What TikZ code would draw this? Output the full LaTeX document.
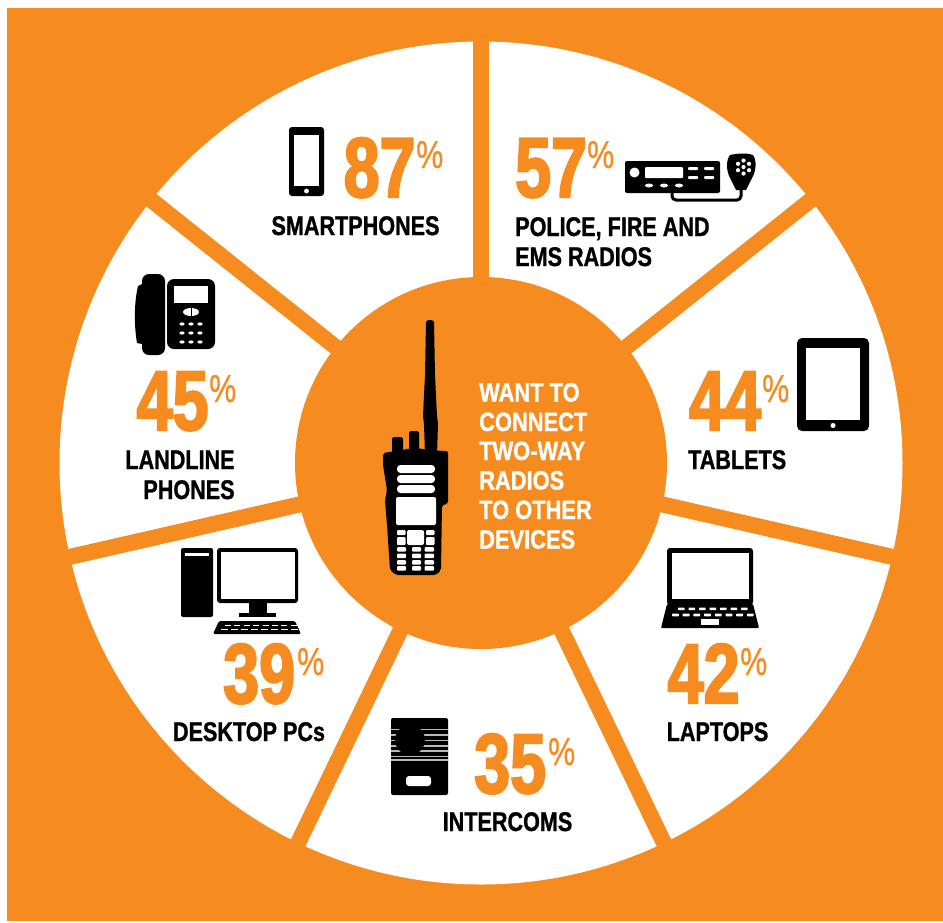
\documentclass[tikz,border=0pt]{standalone}
\usepackage{fontspec}
\setmainfont{Liberation Sans}
\newfontfamily\figfont[FakeStretch=0.76,FakeBold=2.4]{Liberation Sans Bold}
\newfontfamily\labfont[FakeStretch=0.80,FakeBold=1]{Liberation Sans Bold}
\newfontfamily\lwfont[FakeStretch=0.825,FakeBold=1]{Liberation Sans Bold}
\newfontfamily\pctfont[FakeStretch=0.78,FakeBold=0.5]{Liberation Sans}
\definecolor{brand}{HTML}{F68B1F}
\tikzset{
  spoke/.style={brand,line width=16pt},
  bigfig/.style={text=brand,inner sep=0pt,anchor=base west,font=\figfont\fontsize{85}{85}\selectfont},
  pct/.style={text=brand,inner sep=0pt,anchor=base west,font=\pctfont\fontsize{39}{39}\selectfont},
  lab/.style={text=black,inner sep=0pt,font=\labfont\fontsize{27}{29.5}\selectfont},
  lw/.style={text=white,inner sep=0pt,anchor=base west,font=\lwfont\fontsize{26.5}{26.5}\selectfont},
  ink/.style={fill=black,draw=none},
  hole/.style={fill=white,draw=none},
}
\begin{document}
\begin{tikzpicture}[x=1pt,y=-1pt]
\useasboundingbox (0,0) rectangle (943,922);
\fill[brand] (7,8) rectangle (943,921);
\coordinate (c) at (481,463);
\fill[white] (c) circle [radius=421.5];
\foreach \a in {90,38.57,-12.86,-64.29,-115.71,-167.14,141.43}
  \draw[spoke] (c) -- ++({cos(\a)*440},{-sin(\a)*440});
\fill[brand] (c) circle [radius=186];

% smartphone
\fill[ink,rounded corners=3pt] (289,127) rectangle (324,196);
\fill[hole] (294,135) rectangle (319,186);
\fill[hole] (306.5,191) circle [radius=2.4];
\node[bigfig] (n87) at (343.5,197) {87};
\node[pct] (p87) at (416,168) {\%};
\node[lab,anchor=base] (smart) at (355.5,235) {SMARTPHONES};

% mobile radio
\fill[ink,rounded corners=2pt] (625,161) rectangle (720,193);
\fill[hole] (634.5,172.5) circle [radius=5];
\fill[hole,rounded corners=1pt] (645,167) rectangle (683,178);
\foreach \x in {688,704}\foreach \y in {167,176}
  \fill[hole,rounded corners=1pt] (\x,\y) rectangle +(10,3);
\foreach \x in {649,664,679}
  \fill[hole] (\x,185.5) ellipse [x radius=4,y radius=2];
\draw[black,line width=3pt,rounded corners=4pt] (672,190) -- (672,200) -- (741,200) -- (741,188);
\fill[ink] (730,155) .. controls (740,153) and (748,153) .. (753,155)
  .. controls (757,160) and (756,172) .. (752,178) -- (746,190) -- (736,190) -- (730,178)
  .. controls (726,170) and (726,160) .. (730,155) -- cycle;
\foreach \dx/\dy in {0/0,0/-6.5,0/6.5,-5.5/-3.2,5.5/-3.2,-5.5/3.2,5.5/3.2}
  \fill[hole] (743.5+\dx,167+\dy) circle [radius=2.1];
\node[bigfig] (n57) at (515,197) {57};
\node[pct] (p57) at (587,168) {\%};
\node[lab,anchor=base west] (pol) at (515,236) {POLICE, FIRE AND};
\node[lab,anchor=base west] (ems) at (515,266) {EMS RADIOS};

% tablet
\fill[ink,rounded corners=5pt] (797,338) rectangle (869,431);
\fill[hole] (806,348) rectangle (860,420);
\fill[hole] (833,425.5) circle [radius=2.5];
\node[bigfig] (n44) at (689,430) {44};
\node[pct] (p44) at (762,402) {\%};
\node[lab,anchor=base west] (tab) at (688,469) {TABLETS};

% desk phone
\fill[ink] (137,343) .. controls (134,325) and (134,303) .. (138,286) -- (142,284) -- (142,344) -- cycle;
\fill[ink,rounded corners=7pt] (142,274) rectangle (165,355);
\fill[ink,rounded corners=7pt] (167,279) rectangle (215,349);
\fill[hole] (174,286) rectangle (208,303);
\fill[hole] (191,312) ellipse [x radius=8,y radius=4];
\draw[black,line width=1pt] (191,307) -- (191,317);
\foreach \x in {182,191,200}\foreach \y in {324,333,342}
  \fill[hole] (\x,\y) ellipse [x radius=2.6,y radius=1.6];
\node[bigfig] (n45) at (136.5,430) {45};
\node[pct] (p45) at (209,402) {\%};
\node[lab,anchor=base] (land) at (180,469) {LANDLINE};
\node[lab,anchor=base] (phon) at (189,499) {PHONES};

% centre radio
\fill[ink] (426,322) -- (428,320) -- (432,320) -- (434,322) -- (435,375) -- (437,416) -- (438,424) -- (437,455) -- (425,455) -- (424,424) -- (423,416) -- (425,375) -- cycle;
\fill[ink,rounded corners=1.5pt] (392,437) rectangle (403,458);
\fill[ink,rounded corners=1.5pt] (409,431) rectangle (419,455);
\fill[ink,rounded corners=2pt] (383,453) -- (414,448) -- (442,451) -- (448,451) -- (448,504) -- (442,505) -- (441,570) -- (436,575) -- (396,575) -- (390,570) -- (387,525) -- (385,500) -- (387,490) -- (383,465) -- cycle;
\foreach \y in {465,475,485}
  \fill[hole,rounded corners=3.5pt] (397,\y) rectangle (435,\y+8);
\fill[hole,rounded corners=2pt] (396,497) rectangle (436,525);
\fill[hole,rounded corners=2pt] (407,530) rectangle (424,545);
\foreach \x in {397,426}{
  \fill[hole,rounded corners=1pt] (\x,530) rectangle (\x+8.5,535);
  \fill[hole,rounded corners=1pt] (\x,537) rectangle (\x+8.5,545);
}
\foreach \x/\w in {397/9,412/9,424.5/9.5}\foreach \y in {547,553.5,560,566}
  \fill[hole,rounded corners=1pt] (\x,\y) rectangle (\x+\w,\y+4.5);
\node[lw] (w1) at (479,401.5) {WANT TO};
\node[lw] (w2) at (479,431) {CONNECT};
\node[lw] (w3) at (479,460) {TWO-WAY};
\node[lw] (w4) at (479,489.5) {RADIOS};
\node[lw] (w5) at (479,519) {TO OTHER};
\node[lw] (w6) at (479,548.5) {DEVICES};

% desktop
\fill[ink,rounded corners=2pt] (181,548) rectangle (213,617);
\fill[hole] (185,553) rectangle (209,556);
\fill[ink,rounded corners=3pt] (217,548) rectangle (298,603);
\fill[hole] (221,552) rectangle (295,599);
\fill[ink] (249,602) rectangle (267,613);
\fill[ink] (239,613) rectangle (276,617);
\fill[ink,rounded corners=1.5pt] (219,621) -- (295,621) -- (301,634) -- (213,634) -- cycle;
\foreach \i in {0,...,7}{
  \fill[hole] (225+\i*9.4,624.5) rectangle +(6,1.6);
  \fill[hole] (221+\i*10,628.6) rectangle +(6.5,1.8);
}
\node[bigfig] (n39) at (223,703) {39};
\node[pct] (p39) at (297,675) {\%};
\node[lab,anchor=base] (desk) at (249,741) {DESKTOP PCs};

% laptop
\fill[ink,rounded corners=3pt] (667,548) rectangle (753,605);
\fill[hole] (672,553) rectangle (749,599);
\fill[ink,rounded corners=1pt] (667,604) -- (753,604) -- (759,628) -- (661,628) -- cycle;
\foreach \i in {0,...,6}
  \fill[hole,rounded corners=.6pt] (678+\i*10.5,607.5) rectangle +(6.5,2.6);
\foreach \i in {0,...,7}
  \fill[hole,rounded corners=.6pt] (672+\i*10.7,613.5) rectangle +(6.8,2.8);
\fill[hole] (701,619) rectangle (719,624.5);
\node[bigfig] (n42) at (667.5,703) {42};
\node[pct] (p42) at (740,675) {\%};
\node[lab,anchor=base] (lap) at (717.5,741) {LAPTOPS};

% intercom
\fill[ink,rounded corners=2pt] (391,718) rectangle (448,795);
\foreach \y in {729.5,735,740.5,746,751,756.5,760}
  \draw[gray!55,line width=1.4pt] (391,\y) -- (448,\y);
\fill[ink] (410,740) circle [radius=15];
\fill[hole,rounded corners=3pt] (406,776) rectangle (431,786);
\node[bigfig] (n35) at (474,793) {35};
\node[pct] (p35) at (548,765) {\%};
\node[lab,anchor=base] (int) at (507.5,831) {INTERCOMS};
\end{tikzpicture}
\end{document}
